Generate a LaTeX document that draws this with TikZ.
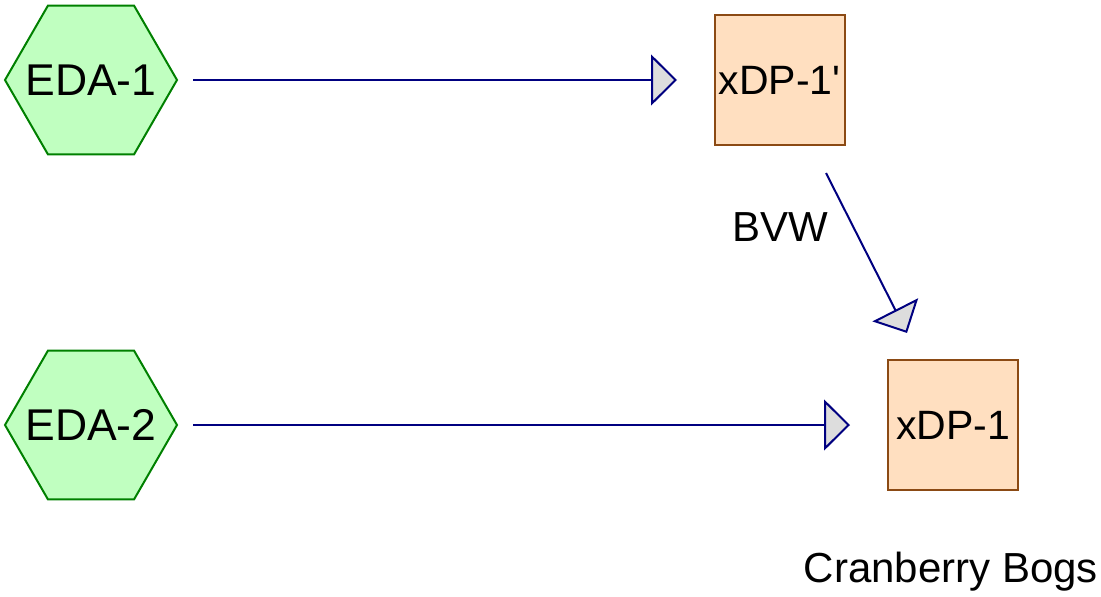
\documentclass[tikz,border=0pt]{standalone}
\usepackage{fontspec}
\setmainfont{Liberation Sans}
\usetikzlibrary{shapes.geometric,arrows.meta}
\definecolor{hexfill}{HTML}{C0FFC0}
\definecolor{hexdraw}{HTML}{008000}
\definecolor{boxfill}{HTML}{FFDFC0}
\definecolor{boxdraw}{HTML}{8B4A14}
\definecolor{flowcol}{HTML}{000080}
\definecolor{headfill}{HTML}{DDDDDD}
\tikzset{
  hexnode/.style={regular polygon, regular polygon sides=6, minimum size=172pt, inner sep=0pt,
    fill=hexfill, draw=hexdraw, line width=2pt, font=\fontsize{44.5}{50}\selectfont},
  boxnode/.style={rectangle, minimum size=130pt, inner sep=0pt,
    fill=boxfill, draw=boxdraw, line width=2pt, font=\fontsize{41}{48}\selectfont},
  flow/.style={draw=flowcol, line width=2pt,
    -{Triangle[length=26pt,width=51pt,fill=headfill,line width=2pt]}},
  lbl/.style={font=\fontsize{42}{48}\selectfont, inner sep=0pt}
}
\begin{document}
\begin{tikzpicture}[x=1pt,y=-1pt]
\useasboundingbox (0,0) rectangle (1101,597);
\node[hexnode] (e1) at (91,80) {\makebox[0pt]{EDA-1}};
\node[hexnode] (e2) at (91,425) {\makebox[0pt]{EDA-2}};
\node[boxnode] (x1p) at (779.5,80) {xDP-1\textquotesingle};
\node[boxnode] (x1) at (953,425) {xDP-1};
\coordinate (s1) at (193,80);
\coordinate (t1) at (677,80);
\coordinate (s2) at (193,425);
\coordinate (t2) at (850,425);
\coordinate (s3) at (826,173);
\coordinate (t3) at (907,333);
\draw[flow] (s1) -- (t1);
\draw[flow] (s2) -- (t2);
\draw[flow] (s3) -- (t3);
\node[lbl] (bvw) at (780,227) {BVW};
\node[lbl] (cb) at (951,572) {Cranberry Bogs};
\end{tikzpicture}
\end{document}
